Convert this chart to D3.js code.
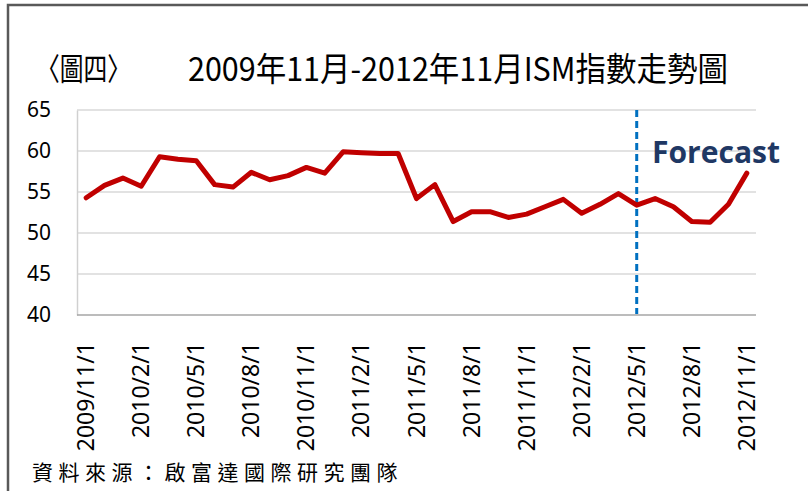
<!DOCTYPE html>
<html>
<head>
<meta charset="utf-8">
<script src="https://cdn.jsdelivr.net/npm/d3@7"></script>
<style>
  body { margin: 0; background: #fff; }
  text { font-family: "Noto Sans", "Open Sans", sans-serif; }
</style>
</head>
<body>
<div id="chart-container"></div>
<script>
// global size
var width = 808;
var height = 491;

// monthly dates, 2009/11 .. 2012/11
var months = [
  "2009/11/1", "2009/12/1",
  "2010/1/1", "2010/2/1", "2010/3/1", "2010/4/1", "2010/5/1", "2010/6/1",
  "2010/7/1", "2010/8/1", "2010/9/1", "2010/10/1", "2010/11/1", "2010/12/1",
  "2011/1/1", "2011/2/1", "2011/3/1", "2011/4/1", "2011/5/1", "2011/6/1",
  "2011/7/1", "2011/8/1", "2011/9/1", "2011/10/1", "2011/11/1", "2011/12/1",
  "2012/1/1", "2012/2/1", "2012/3/1", "2012/4/1", "2012/5/1", "2012/6/1",
  "2012/7/1", "2012/8/1", "2012/9/1", "2012/10/1", "2012/11/1"
];

// ISM index values
var ism = [
  54.3, 55.8,
  56.7, 55.7, 59.3, 59.0, 58.8, 55.9,
  55.6, 57.4, 56.5, 57.0, 58.0, 57.3,
  59.9, 59.8, 59.7, 59.7, 54.2, 55.9,
  51.4, 52.6, 52.6, 51.9, 52.3, 53.2,
  54.1, 52.4, 53.5, 54.8, 53.4, 54.2,
  53.2, 51.4, 51.3, 53.5, 57.3
];

// labels shown on the x axis (every third month)
var xTickLabels = [
  "2009/11/1", "2010/2/1", "2010/5/1", "2010/8/1", "2010/11/1", "2011/2/1",
  "2011/5/1", "2011/8/1", "2011/11/1", "2012/2/1", "2012/5/1", "2012/8/1",
  "2012/11/1"
];
var yTicks = [40, 45, 50, 55, 60, 65];
var forecastStart = "2012/5/1";

var svg = d3
  .select("#chart-container")
  .append("svg")
  .attr("width", width)
  .attr("height", height);

// outer frame (top and left edges visible)
svg.append("path")
  .attr("d", "M8,491 L8,5 L808,5")
  .attr("fill", "none")
  .attr("stroke", "#595959")
  .attr("stroke-width", 2.5);

// title
svg.append("text")
  .attr("x", 36)
  .attr("y", 80)
  .style("font-family", "'Noto Sans CJK TC', sans-serif")
  .style("font-size", "31px")
  .attr("fill", "#000")
  .attr("textLength", 95)
  .attr("lengthAdjust", "spacingAndGlyphs")
  .text("〈圖四〉");

svg.append("text")
  .attr("x", 188)
  .attr("y", 81)
  .style("font-family", "'Noto Sans CJK TC', sans-serif")
  .style("font-size", "33px")
  .attr("fill", "#000")
  .attr("textLength", 540)
  .attr("lengthAdjust", "spacingAndGlyphs")
  .text("2009年11月-2012年11月ISM指數走勢圖");

// scales
var x = d3.scaleBand()
  .domain(months)
  .range([77, 756]);

var y = d3.scaleLinear()
  .domain([40, 65])
  .range([315, 110]);

function cx(d) { return x(d) + x.bandwidth() / 2; }

// gridlines
svg.append("g")
  .selectAll("line")
  .data(yTicks.slice(1))
  .enter()
  .append("line")
  .attr("x1", 77)
  .attr("x2", 756)
  .attr("y1", function(d) { return y(d); })
  .attr("y2", function(d) { return y(d); })
  .attr("stroke", "#d9d9d9")
  .attr("stroke-width", 1.5);

// y axis
var yAxis = d3.axisLeft(y).tickValues(yTicks).tickSize(0).tickPadding(8);
var gy = svg.append("g")
  .attr("transform", "translate(77,0)")
  .call(yAxis);
gy.select(".domain").attr("stroke", "#d0d0d0").attr("stroke-width", 1.5);
gy.selectAll("text")
  .attr("x", -26)
  .style("text-anchor", "end")
  .style("font-size", "21px")
  .attr("fill", "#000");

// x axis baseline
svg.append("line")
  .attr("x1", 77)
  .attr("x2", 756)
  .attr("y1", y(40))
  .attr("y2", y(40))
  .attr("stroke", "#a6a6a6")
  .attr("stroke-width", 1.5);

// x labels, rotated
svg.append("g")
  .selectAll("text")
  .data(xTickLabels)
  .enter()
  .append("text")
  .attr("transform", function(d) {
    return "translate(" + (cx(d) + 8) + ",342) rotate(-90)";
  })
  .style("text-anchor", "end")
  .style("font-size", "23px")
  .attr("fill", "#000")
  .text(function(d) { return d; });

// forecast divider
svg.append("line")
  .attr("x1", cx(forecastStart))
  .attr("x2", cx(forecastStart))
  .attr("y1", 110)
  .attr("y2", 314)
  .attr("stroke", "#0070c0")
  .attr("stroke-width", 3)
  .attr("stroke-dasharray", "7,4");

// the ISM line
var line = d3.line()
  .x(function(d, i) { return cx(months[i]); })
  .y(function(d) { return y(d); });

svg.append("path")
  .datum(ism)
  .attr("d", line)
  .attr("fill", "none")
  .attr("stroke", "#c00000")
  .attr("stroke-width", 5)
  .attr("stroke-linejoin", "round")
  .attr("stroke-linecap", "round");

svg.append("text")
  .attr("x", 652)
  .attr("y", 163)
  .style("font-family", "'Open Sans', sans-serif")
  .style("font-weight", "bold")
  .style("font-size", "30px")
  .attr("fill", "#1f3864")
  .attr("textLength", 128)
  .attr("lengthAdjust", "spacingAndGlyphs")
  .text("Forecast");

// source note
svg.append("text")
  .attr("x", 32)
  .attr("y", 480)
  .style("font-family", "'Noto Sans CJK TC', sans-serif")
  .style("font-size", "21px")
  .style("letter-spacing", "5.5px")
  .attr("fill", "#000")
  .text("資料來源：啟富達國際研究團隊");
</script>
</body>
</html>
